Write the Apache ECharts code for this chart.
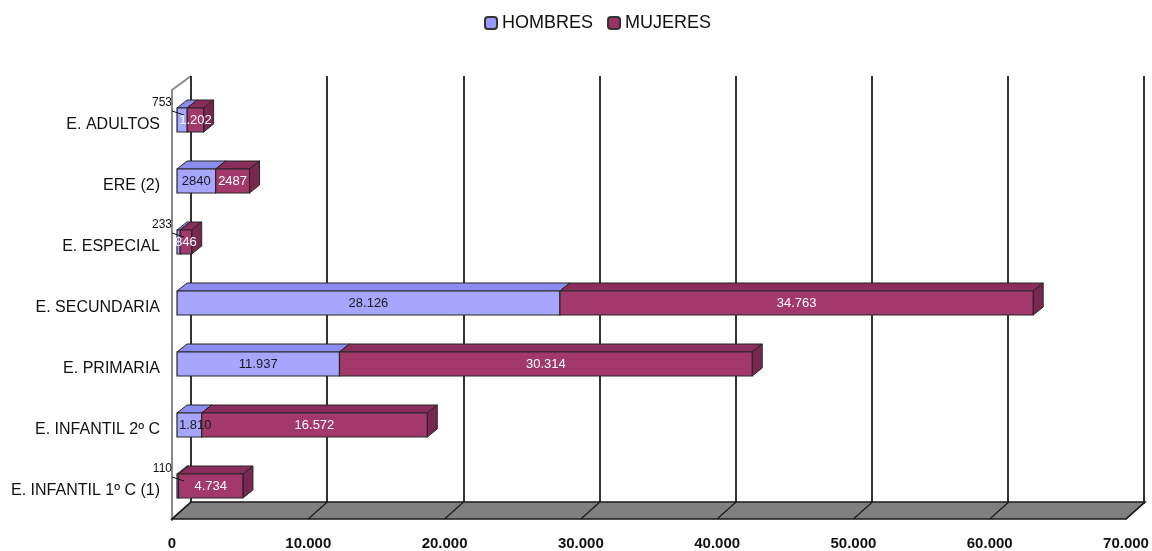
<!DOCTYPE html>
<html lang="es" style="height: 100%">
<head>
  <meta charset="utf-8">
</head>
<body style="height: 100%; margin: 0">
  <div id="container" style="height: 100%"></div>
  <script type="text/javascript" src="https://fastly.jsdelivr.net/npm/echarts@6/dist/echarts.min.js"></script>
  <script type="text/javascript">
    // datos (de abajo hacia arriba)
    var categories = ['E. INFANTIL 1º C (1)', 'E. INFANTIL 2º C', 'E. PRIMARIA', 'E. SECUNDARIA', 'E. ESPECIAL', 'ERE (2)', 'E. ADULTOS'];
    var hombres = [110, 1810, 11937, 28126, 233, 2840, 753];
    var mujeres = [4734, 16572, 30314, 34763, 846, 2487, 1202];
    var hombresLabels = ['110', '1.810', '11.937', '28.126', '233', '2840', '753'];
    var mujeresLabels = ['4.734', '16.572', '30.314', '34.763', '846', '2487', '1.202'];
    var xTicks = [0, 10000, 20000, 30000, 40000, 50000, 60000, 70000];

    var font = "'Liberation Sans', Arial, sans-serif";

    var dom = document.getElementById('container');
    var myChart = echarts.init(dom, null, { renderer: 'canvas' });

    // para medir el ancho de las etiquetas
    var ctx = document.createElement('canvas').getContext('2d');
    ctx.font = '13px ' + font;

    // datos apilados: [inicio, fin, indice categoria]
    var dataH = hombres.map(function (v, i) { return [0, v, i]; });
    var dataM = mujeres.map(function (v, i) { return [hombres[i], hombres[i] + v, i]; });

    var BAR_H = 24, DX = 10, DY = 8;

    // barra 3D: cara superior, lateral y frontal
    function barItem(front, top, side) {
      return function (params, api) {
        var i = api.value(2);
        var p0 = api.coord([api.value(0), i]);
        var p1 = api.coord([api.value(1), i]);
        var x0 = p0[0], x1 = p1[0], cy = p0[1];
        var y0 = cy - BAR_H / 2, y1 = cy + BAR_H / 2;
        var stroke = '#262626';
        return { type: 'group', children: [
          { type: 'polygon', shape: { points: [[x0, y0], [x1, y0], [x1 + DX, y0 - DY], [x0 + DX, y0 - DY]] },
            style: { fill: top, stroke: stroke, lineWidth: 1 } },
          { type: 'polygon', shape: { points: [[x1, y0], [x1 + DX, y0 - DY], [x1 + DX, y1 - DY], [x1, y1]] },
            style: { fill: side, stroke: stroke, lineWidth: 1 } },
          { type: 'rect', shape: { x: x0, y: y0, width: x1 - x0, height: BAR_H },
            style: { fill: front, stroke: stroke, lineWidth: 1.2 } }
        ] };
      };
    }

    // etiquetas de valores (encima de todas las barras)
    function labelItem(textColor, labels, outside) {
      return function (params, api) {
        var i = api.value(2);
        var p0 = api.coord([api.value(0), i]);
        var p1 = api.coord([api.value(1), i]);
        var x0 = p0[0], x1 = p1[0], cy = p0[1];
        var txt = labels[params.dataIndex];
        var v = api.value(1) - api.value(0);
        if (outside && v < 1000) {
          return { type: 'group', children: [
            { type: 'text', style: { text: txt, x: x0 - 5, y: cy - 17,
              align: 'right', verticalAlign: 'middle', fill: '#111', font: '12px ' + font } },
            { type: 'line', shape: { x1: x0 - 5, y1: cy - 9, x2: x0 + 7, y2: cy - 5 },
              style: { stroke: '#111', lineWidth: 1 } }
          ] };
        }
        var cx = (x0 + x1) / 2;
        if (outside) {
          var w = ctx.measureText(txt).width;
          cx = Math.max(cx, x0 + 2 + w / 2);
        }
        return { type: 'text', style: { text: txt, x: cx, y: cy,
          align: 'center', verticalAlign: 'middle', fill: textColor, font: '13px ' + font } };
      };
    }

    // suelo del grafico
    function floorItem(params, api) {
      var dx = 19, dy = 17;
      var p = api.coord([api.value(0), 0]);
      var children = [];
      if (params.dataIndex === 0) {
        var a = api.coord([xTicks[0], 0]);
        var b = api.coord([xTicks[xTicks.length - 1], 0]);
        children.push({ type: 'polygon',
          shape: { points: [[a[0], a[1]], [b[0], b[1]], [b[0] + dx, b[1] - dy], [a[0] + dx, a[1] - dy]] },
          style: { fill: '#808080', stroke: '#1a1a1a', lineWidth: 1.5 } });
      }
      children.push({ type: 'line', shape: { x1: p[0], y1: p[1], x2: p[0] + dx, y2: p[1] - dy },
        style: { stroke: '#1a1a1a', lineWidth: 1.2 } });
      return { type: 'group', children: children };
    }

    var option = {
      backgroundColor: '#ffffff',
      textStyle: { fontFamily: font },
      legend: {
        top: 9,
        left: 479,
        icon: 'roundRect',
        itemWidth: 12,
        itemHeight: 12,
        itemGap: 14,
        textStyle: { fontSize: 18, color: '#111', fontFamily: font },
        data: ['HOMBRES', 'MUJERES']
      },
      grid: [
        { left: 191, right: 8, top: 76, bottom: 47 },
        { left: 177, right: 22, top: 89.5, bottom: 34.5 },
        { left: 172, right: 26, top: 504, bottom: 30 },
        { left: 177, right: 22, top: 94.5, bottom: 29.5 }
      ],
      xAxis: [
        { gridIndex: 0, type: 'value', min: 0, max: 70000, interval: 10000,
          axisLine: { show: false }, axisTick: { show: false }, axisLabel: { show: false },
          splitLine: { show: true, lineStyle: { color: '#333', width: 2 } } },
        { gridIndex: 1, type: 'value', min: 0, max: 70000, interval: 10000, show: false },
        { gridIndex: 2, type: 'value', min: 0, max: 70000, interval: 10000,
          axisLine: { show: false }, axisTick: { show: false }, splitLine: { show: false },
          axisLabel: { margin: 17, fontSize: 15, fontWeight: 'bold', color: '#111', fontFamily: font,
            formatter: function (v) { return v === 0 ? '0' : (v / 1000) + '.000'; } } },
        { gridIndex: 3, type: 'value', min: 0, max: 70000, show: false }
      ],
      yAxis: [
        { gridIndex: 0, type: 'value', show: false },
        { gridIndex: 1, type: 'category', data: categories, show: false },
        { gridIndex: 2, type: 'value', min: 0, max: 1, show: false },
        // etiquetas de categoria (un poco por debajo del centro de la barra)
        { gridIndex: 3, type: 'category', data: categories,
          axisLine: { show: false }, axisTick: { show: false }, splitLine: { show: false },
          axisLabel: { margin: 17, fontSize: 16, color: '#111', fontFamily: font } }
      ],
      series: [
        { name: 'suelo', type: 'custom', xAxisIndex: 2, yAxisIndex: 2, silent: true,
          renderItem: floorItem, data: xTicks.map(function (v) { return [v]; }), z: 1 },
        { name: 'HOMBRES', type: 'custom', xAxisIndex: 1, yAxisIndex: 1,
          itemStyle: { color: '#9999FF', borderColor: '#333', borderWidth: 1.5 },
          encode: { x: [0, 1], y: 2 },
          renderItem: barItem('#A6A6FF', '#8C8CEE', '#7575CC'),
          data: dataH, z: 3 },
        { name: 'MUJERES', type: 'custom', xAxisIndex: 1, yAxisIndex: 1,
          itemStyle: { color: '#993366', borderColor: '#333', borderWidth: 1.5 },
          encode: { x: [0, 1], y: 2 },
          renderItem: barItem('#A3386B', '#8A2D5A', '#7A2750'),
          data: dataM, z: 4 },
        { name: 'HOMBRES', type: 'custom', xAxisIndex: 1, yAxisIndex: 1, silent: true,
          itemStyle: { color: '#9999FF', borderColor: '#333', borderWidth: 1.5 },
          encode: { x: [0, 1], y: 2 },
          renderItem: labelItem('#1a1a1a', hombresLabels, true),
          data: dataH, z: 5 },
        { name: 'MUJERES', type: 'custom', xAxisIndex: 1, yAxisIndex: 1, silent: true,
          itemStyle: { color: '#993366', borderColor: '#333', borderWidth: 1.5 },
          encode: { x: [0, 1], y: 2 },
          renderItem: labelItem('#ffffff', mujeresLabels, false),
          data: dataM, z: 5 }
      ],
      graphic: [
        { type: 'polyline', shape: { points: [[172, 521], [172, 90], [191, 76]] },
          style: { stroke: '#8a8a8a', lineWidth: 2, fill: null }, z: 0 }
      ]
    };

    myChart.setOption(option);
    window.addEventListener('resize', myChart.resize);
  </script>
</body>
</html>
